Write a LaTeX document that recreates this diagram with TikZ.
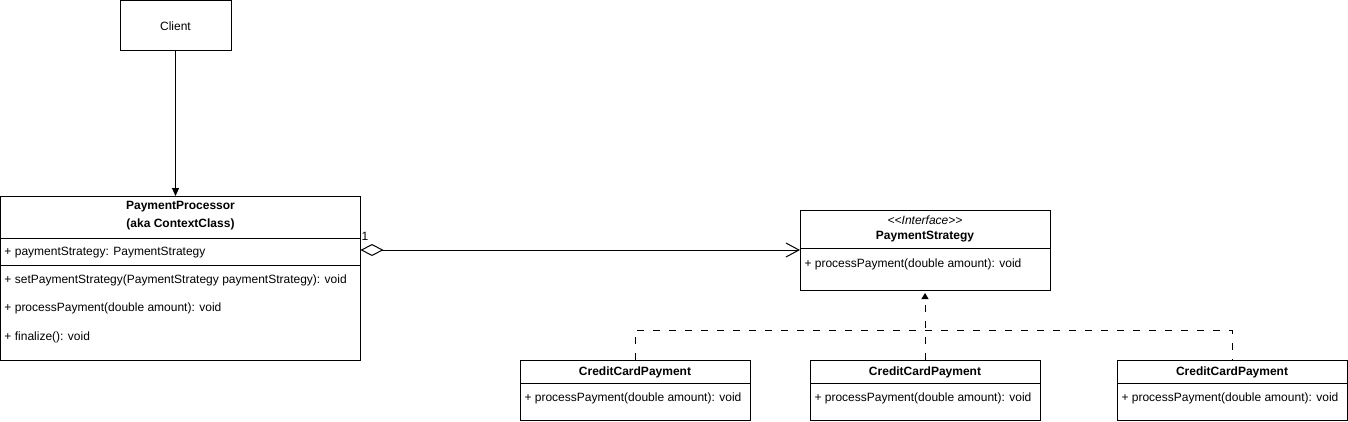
\documentclass[tikz,border=0pt]{standalone}
\usepackage{fontspec}
\setmainfont{Liberation Sans}
\usetikzlibrary{arrows.meta}
\begin{document}
\begin{tikzpicture}[x=1pt,y=-1pt,line width=1pt,
  box/.style={draw,rectangle,inner sep=0pt,outer sep=0pt,anchor=north west},
  txt/.style={anchor=west,inner sep=0pt,yshift=-1.5pt,font=\fontsize{12}{14}\selectfont},
  ctxt/.style={anchor=center,inner sep=0pt,yshift=-1.5pt,font=\fontsize{12}{14}\selectfont},
  ttl/.style={anchor=center,inner sep=0pt,yshift=-1.5pt,font=\fontsize{12}{14}\selectfont\bfseries},
  dsh/.style={dash pattern=on 7pt off 9pt},
]
\useasboundingbox (0,0) rectangle (1348,421);
% Client
\node[box,minimum width=111pt,minimum height=50pt] (client) at (120,0.5) {};
\node[ctxt] (clienttxt) at (175.5,25) {Client};
% PaymentProcessor
\node[box,minimum width=360pt,minimum height=164pt] (pp) at (0.5,196) {};
\node[ttl] (ppt1) at (180.5,205) {PaymentProcessor};
\node[ttl] (ppt2) at (180.5,223) {(aka ContextClass)};
\draw (0.5,238) -- (360.5,238);
\node[txt] (ppa1) at (4,251) {+ paymentStrategy: PaymentStrategy};
\draw (0.5,265) -- (360.5,265);
\node[txt] (ppm1) at (4,279) {+ setPaymentStrategy(PaymentStrategy paymentStrategy): void};
\node[txt] (ppm2) at (4,307) {+ processPayment(double amount): void};
\node[txt] (ppm3) at (4,336) {+ finalize(): void};
% PaymentStrategy
\node[box,minimum width=250pt,minimum height=80pt] (ps) at (800,210) {};
\node[ctxt,font=\fontsize{12}{14}\selectfont\itshape] (pst0) at (925,219) {{<}{<}Interface{>}{>}};
\node[ttl] (pst1) at (925,235) {PaymentStrategy};
\draw (800,248) -- (1050,248);
\node[txt] (psm1) at (804,263) {+ processPayment(double amount): void};
% Concrete strategies
\foreach \n/\x in {c1/520,c2/810,c3/1117}{
  \node[box,minimum width=230pt,minimum height=60pt] (\n) at (\x,360) {};
  \node[ttl] (\n t) at (\x+115,371) {CreditCardPayment};
  \draw (\x,383) -- (\x+230,383);
  \node[txt] (\n m) at (\x+4,397) {+ processPayment(double amount): void};
}
% Client -> PaymentProcessor
\draw[-{Triangle[length=8pt,width=7pt]}] (client.south) -- (client.south |- pp.north);
% Aggregation
\coordinate (aggstart) at (pp.east |- ps.west);
\draw[{Diamond[open,length=23pt,width=12pt]}-{Straight Barb[length=13pt,width=14pt]}] (aggstart) -- (ps.west);
\node[anchor=center,inner sep=0pt,font=\fontsize{12}{14}\selectfont] (mult) at (365,236) {1};
% Realization
\coordinate (j) at (925,330);
\draw[dsh] (c1.north) |- (j) -| (c3.north);
\draw[dsh,-{Triangle[length=6pt,width=7pt]},shorten >=3pt] (c2.north) -- (ps.south);
\end{tikzpicture}
\end{document}
